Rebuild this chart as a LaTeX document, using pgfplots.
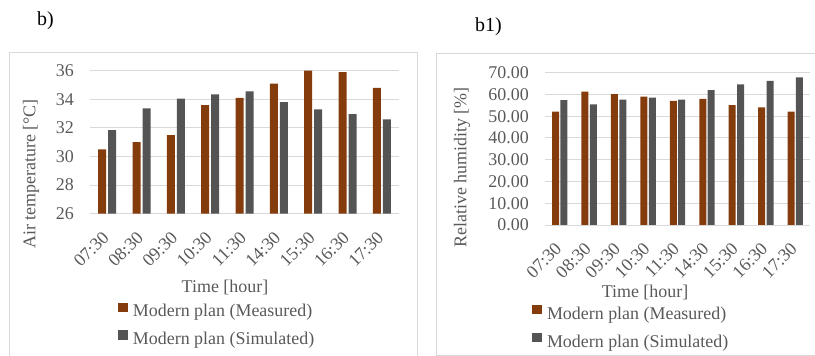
\documentclass[border=0pt]{standalone}
\usepackage{fontspec}
\setmainfont{Liberation Serif}
\usepackage{pgfplots}
\pgfplotsset{compat=1.18}
\definecolor{brn}{HTML}{843C0C}
\definecolor{dgr}{HTML}{545454}
\definecolor{txt}{HTML}{595959}
\definecolor{grd}{HTML}{D9D9D9}
\pgfplotsset{common/.style={
  scale only axis, anchor=south west, ybar,
  xmin=-0.5, xmax=8.5, xtick={0,...,8},
  xticklabels={07:30,08:30,09:30,10:30,11:30,14:30,15:30,16:30,17:30},
  axis x line*=bottom, axis y line*=left,
  y axis line style={draw=none}, x axis line style={grd, line width=1bp},
  major tick length=0pt, ymajorgrids, grid style={grd, line width=1bp},
  tick label style={font=\fontsize{18}{20}\selectfont, text=txt, inner sep=0pt},
  x tick label style={xshift=-1.3bp, yshift=-21bp, rotate=45, anchor=east},
  y tick label style={xshift=-16bp, anchor=east},
  /pgf/number format/assume math mode=true,
  legend style={draw=none, fill=none, inner sep=0pt, outer sep=0pt, anchor=north west,
    font=\fontsize{18}{20}\selectfont, text=txt, row sep=12bp, nodes={inner sep=0pt}},
  legend cell align=left,
  legend image code/.code={\fill[##1] (0bp,-0.5bp) rectangle (10bp,9bp); \path (15bp,0bp);},
}}
\begin{document}
\begin{tikzpicture}
\path[use as bounding box] (0bp,0bp) rectangle (815bp,356bp);
\draw[grd, line width=1bp] (9.3bp,0bp) -- (9.3bp,303.7bp) -- (417.7bp,303.7bp) -- (417.7bp,0bp);
\draw[grd, line width=1bp] (815bp,0.7bp) -- (436.7bp,0.7bp) -- (436.7bp,302bp) -- (815bp,302bp);
\node[anchor=west, inner sep=0pt, font=\fontsize{20}{22}\selectfont] at (37bp,335bp) {b)};
\node[anchor=west, inner sep=0pt, font=\fontsize{20}{22}\selectfont] at (475bp,329.5bp) {b1)};

\begin{axis}[common, at={(90bp,142.3bp)}, width=309bp, height=143bp,
  ymin=26, ymax=36, ytick={26,28,...,36}, bar width=8bp,
  legend style={at={(axis description cs:0.0906,-0.621)}}]
\addplot[fill=brn, draw=none, bar shift=-5bp] coordinates {(0,30.5) (1,31.0) (2,31.5) (3,33.6) (4,34.1) (5,35.1) (6,36.0) (7,35.9) (8,34.8)};
\addplot[fill=dgr, draw=none, bar shift=5bp] coordinates {(0,31.85) (1,33.37) (2,34.05) (3,34.35) (4,34.55) (5,33.8) (6,33.3) (7,32.97) (8,32.6)};
\legend{Modern plan (Measured), Modern plan (Simulated)}
\end{axis}

\begin{axis}[common, at={(545bp,131bp)}, width=265bp, height=152.3bp,
  ymin=0, ymax=70, ytick={0,10,...,70}, bar width=7bp,
  y tick label style={/pgf/number format/.cd, fixed, fixed zerofill, precision=2},
  legend style={at={(axis description cs:-0.049,-0.524)}}]
\addplot[fill=brn, draw=none, bar shift=-4.2bp] coordinates {(0,52.1) (1,61.3) (2,60.2) (3,59.0) (4,57.1) (5,58.0) (6,55.1) (7,54.1) (8,52.1)};
\addplot[fill=dgr, draw=none, bar shift=4.2bp] coordinates {(0,57.4) (1,55.4) (2,57.6) (3,58.5) (4,57.6) (5,62.0) (6,64.6) (7,66.3) (8,67.8)};
\legend{Modern plan (Measured), Modern plan (Simulated)}
\end{axis}

\node[rotate=90, inner sep=0pt, text=txt, font=\fontsize{18}{20}\selectfont] at (31bp,182bp) {Air temperature [°C]};
\node[rotate=90, inner sep=0pt, text=txt, font=\fontsize{18}{20}\selectfont] at (462bp,188.5bp) {Relative humidity [\%]};
\node[inner sep=0pt, text=txt, font=\fontsize{18}{20}\selectfont] at (225bp,69bp) {Time [hour]};
\node[inner sep=0pt, text=txt, font=\fontsize{18}{20}\selectfont] at (645bp,64bp) {Time [hour]};
\end{tikzpicture}
\end{document}
